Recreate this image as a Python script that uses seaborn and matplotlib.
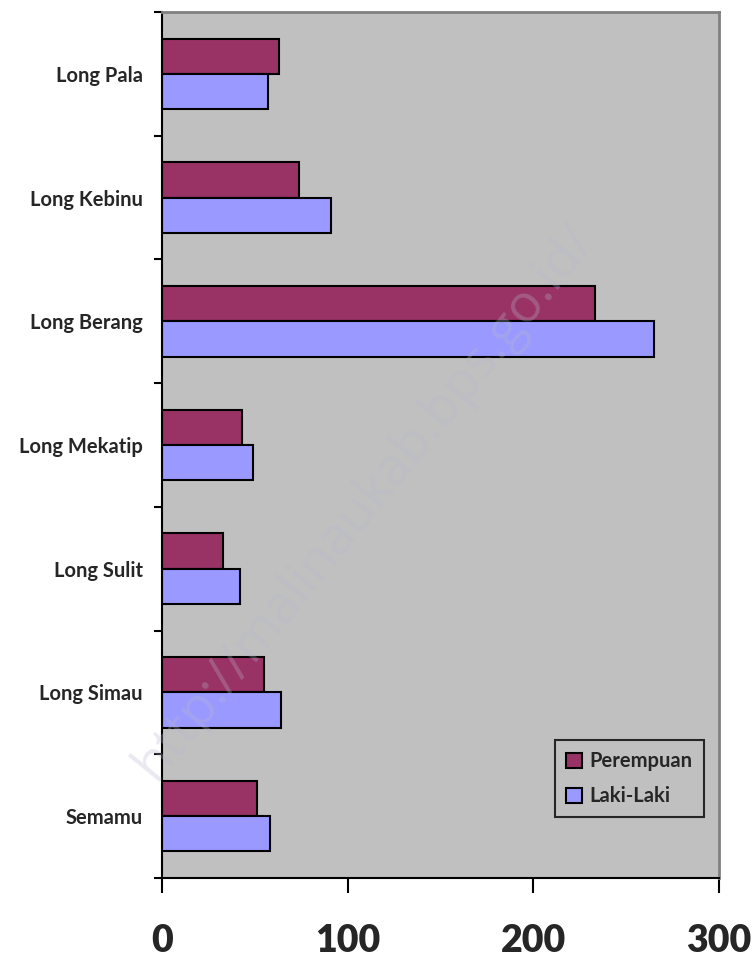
import matplotlib
matplotlib.use("Agg")
import matplotlib.pyplot as plt
import seaborn as sns
import pandas as pd
import numpy as np

# data
kecamatan = ["Long Pala", "Long Kebinu", "Long Berang", "Long Mekatip",
             "Long Sulit", "Long Simau", "Semamu"]
perempuan = [63, 74, 233, 43, 33, 55, 51]
laki_laki = [57, 91, 265, 49, 42, 64, 58]
series = ["Perempuan", "Laki-Laki"]
x_ticks = [0, 100, 200, 300]

df = pd.DataFrame({
    "kecamatan": kecamatan * 2,
    "jumlah": perempuan + laki_laki,
    "jenis": [series[0]] * len(kecamatan) + [series[1]] * len(kecamatan),
})

sns.set_style("white")
plt.rcParams["font.family"] = ["Lato", "DejaVu Sans"]

fig = plt.figure(figsize=(7.55, 9.6), dpi=100)
ax = fig.add_axes([0.2146, 0.0854, 0.7377, 0.9021])
ax.set_facecolor("#C0C0C0")

sns.barplot(data=df, y="kecamatan", x="jumlah", hue="jenis", orient="h",
            order=kecamatan, hue_order=series,
            palette=["#993366", "#9999FF"], width=0.57,
            edgecolor="black", linewidth=1.5, saturation=1, ax=ax)

ax.set_xlim(0, 300)
ax.set_ylim(len(kecamatan) - 0.5, -0.5)
ax.set_xlabel("")
ax.set_ylabel("")

ax.set_xticks(x_ticks)
ax.set_xticklabels([str(t) for t in x_ticks], fontsize=27, fontweight="heavy")
ax.tick_params(axis="x", bottom=True, direction="out", length=11, width=1.5,
               color="black", pad=22)

ax.set_yticks(range(len(kecamatan)))
ax.set_yticklabels(kecamatan, fontsize=14.5, fontweight="bold")
ax.tick_params(axis="y", which="major", left=True, length=0, pad=14)
ax.set_yticks(np.arange(-0.5, len(kecamatan), 1.0), minor=True)
ax.tick_params(axis="y", which="minor", left=True, direction="out", length=6,
               width=1.5, color="black")

for side in ["left", "bottom"]:
    ax.spines[side].set_color("black")
    ax.spines[side].set_linewidth(1.5)
for side in ["top", "right"]:
    ax.spines[side].set_color("#808080")
    ax.spines[side].set_linewidth(2)
    ax.spines[side].set_visible(True)

leg = ax.legend(loc="lower right", bbox_to_anchor=(0.973, 0.07),
                borderaxespad=0,
                prop={"weight": "bold", "size": 14.5},
                frameon=True, fancybox=False, edgecolor="black",
                handlelength=0.8, handleheight=0.8, handletextpad=0.4,
                borderpad=0.55, labelspacing=0.75)
leg.get_frame().set_facecolor("none")
leg.get_frame().set_linewidth(1.5)

# watermark
fig.text(0.483, 0.477, "http://malinaukab.bps.go.id/", rotation=51,
         fontsize=38, color="#b8b8d0", alpha=0.3,
         ha="center", va="center", family=["Open Sans", "DejaVu Sans"])

fig.savefig("out.png", dpi=100)
